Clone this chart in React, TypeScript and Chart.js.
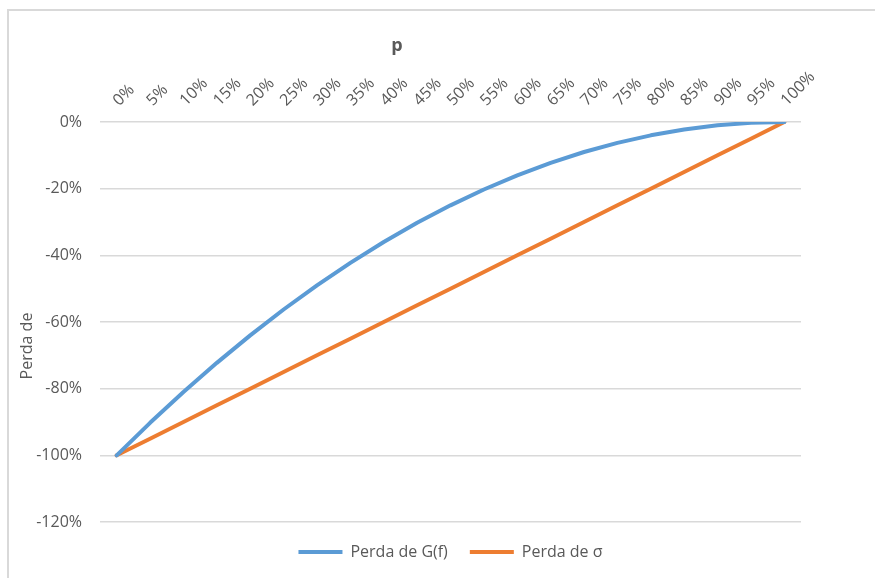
import { useEffect, useRef } from 'react';
import { Chart, registerables } from 'chart.js';

Chart.register(...registerables);

const categories = ['0%', '5%', '10%', '15%', '20%', '25%', '30%', '35%', '40%', '45%', '50%', '55%', '60%', '65%', '70%', '75%', '80%', '85%', '90%', '95%', '100%'];
const perdaG = [-100, -90.25, -81, -72.25, -64, -56.25, -49, -42.25, -36, -30.25, -25, -20.25, -16, -12.25, -9, -6.25, -4, -2.25, -1, -0.25, 0];
const perdaSigma = [-100, -95, -90, -85, -80, -75, -70, -65, -60, -55, -50, -45, -40, -35, -30, -25, -20, -15, -10, -5, 0];
const yTicks = [0, -20, -40, -60, -80, -100, -120];

const FONT = '"Open Sans", "Noto Sans", sans-serif';
const GRAY = '#595959';

const titlesPlugin = {
  id: 'titles',
  afterDraw(chart: any) {
    const { ctx, chartArea } = chart;
    ctx.save();
    ctx.fillStyle = GRAY;
    ctx.textAlign = 'center';
    ctx.textBaseline = 'alphabetic';
    ctx.font = `bold 18px ${FONT}`;
    ctx.fillText('p', chartArea.left + 297, 51);
    ctx.translate(27, 346);
    ctx.rotate(-Math.PI / 2);
    ctx.textBaseline = 'middle';
    ctx.font = `16px ${FONT}`;
    ctx.fillText('Perda de', 0, 0);
    ctx.restore();
  },
};

export default function App() {
  const ref = useRef<HTMLCanvasElement>(null);
  useEffect(() => {
    if (!ref.current) return;
    const chart = new Chart(ref.current, {
      type: 'line',
      data: {
        labels: categories,
        datasets: [
          {
            label: 'Perda de G(f)',
            data: perdaG,
            borderColor: '#5B9BD5',
            backgroundColor: '#5B9BD5',
            borderWidth: 4,
            pointRadius: 0,
            tension: 0,
            borderCapStyle: 'round',
            borderJoinStyle: 'round',
          },
          {
            label: 'Perda de σ',
            data: perdaSigma,
            borderColor: '#ED7D31',
            backgroundColor: '#ED7D31',
            borderWidth: 4,
            pointRadius: 0,
            tension: 0,
            borderCapStyle: 'round',
            borderJoinStyle: 'round',
          },
        ],
      },
      options: {
        animation: false,
        responsive: false,
        layout: { padding: { left: 0, right: 74, top: 0, bottom: 8 } },
        scales: {
          x: {
            position: 'top',
            offset: true,
            grid: { display: false },
            border: { display: false },
            ticks: {
              minRotation: 45,
              maxRotation: 45,
              autoSkip: false,
              color: GRAY,
              padding: 4,
              labelOffset: 13,
              font: { family: FONT, size: 16 },
            },
            afterFit: (s: any) => {
              s.height = 122;
            },
          },
          y: {
            min: -120,
            max: 0,
            afterBuildTicks: (s: any) => {
              s.ticks = yTicks.map((v) => ({ value: v }));
            },
            ticks: {
              callback: (v: any) => `${v}%`,
              padding: 18,
              color: GRAY,
              font: { family: FONT, size: 16 },
            },
            grid: { color: '#d9d9d9', lineWidth: 1.5, drawTicks: false },
            border: { display: false },
            afterFit: (s: any) => {
              s.width = 100;
            },
          },
        },
        plugins: {
          legend: {
            position: 'bottom',
            fullSize: false,
            labels: {
              usePointStyle: true,
              pointStyle: 'line',
              pointStyleWidth: 44,
              padding: 22,
              color: GRAY,
              font: { family: FONT, size: 16 },
            },
          },
          tooltip: { enabled: false },
        },
      } as any,
      plugins: [titlesPlugin],
    });
    return () => chart.destroy();
  }, []);

  return (
    <div style={{ position: 'absolute', left: 0, top: 0, width: 875, height: 578, overflow: 'hidden', background: '#fff' }}>
      <div
        style={{
          position: 'absolute',
          left: 7,
          top: 9,
          width: 900,
          height: 600,
          borderTop: '2px solid #d9d9d9',
          borderLeft: '2px solid #d9d9d9',
        }}
      />
      <canvas ref={ref} width={875} height={578} style={{ position: 'absolute', left: 0, top: 0 }} />
    </div>
  );
}
